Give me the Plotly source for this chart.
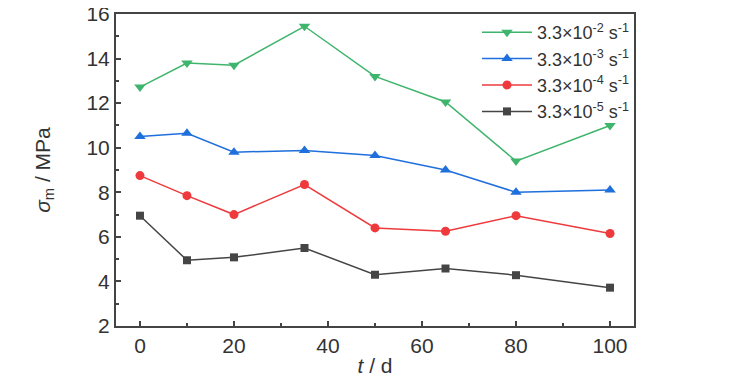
import plotly.graph_objects as go

t_days = [0, 10, 20, 35, 50, 65, 80, 100]
s_e2 = [12.72, 13.8, 13.7, 15.45, 13.2, 12.05, 9.4, 11.0]
s_e3 = [10.5, 10.65, 9.8, 9.88, 9.65, 9.0, 8.0, 8.1]
s_e4 = [8.75, 7.85, 7.0, 8.35, 6.4, 6.25, 6.95, 6.15]
s_e5 = [6.95, 4.95, 5.08, 5.5, 4.3, 4.58, 4.28, 3.72]
names = ["3.3×10<sup>-2</sup> s<sup>-1</sup>", "3.3×10<sup>-3</sup> s<sup>-1</sup>",
         "3.3×10<sup>-4</sup> s<sup>-1</sup>", "3.3×10<sup>-5</sup> s<sup>-1</sup>"]

series = [s_e2, s_e3, s_e4, s_e5]
colors = ["#3fb46c", "#1f6fdc", "#ee3a3c", "#454545"]
symbols = ["triangle-down", "triangle-up", "circle", "square"]
msizes = [10, 10, 9, 8]

FONT = "Liberation Sans, Arial, sans-serif"

fig = go.Figure()
for ys, c, s, n, ms in zip(series, colors, symbols, names, msizes):
    fig.add_trace(go.Scatter(x=t_days, y=ys, mode="lines+markers", name=n,
                             line=dict(color=c, width=1.5),
                             marker=dict(symbol=s, size=ms, color=c)))

axis_common = dict(showline=True, linecolor="#444", linewidth=2, mirror=True,
                   ticks="inside", ticklen=5, tickwidth=1.5, tickcolor="#444",
                   showgrid=False, zeroline=False, automargin=False,
                   ticklabeloverflow="allow",
                   tickfont=dict(family=FONT, size=21, color="#333"))

fig.update_layout(
    width=729, height=390,
    margin=dict(l=108, r=103, t=6, b=72),
    paper_bgcolor="white", plot_bgcolor="white",
    font=dict(family=FONT, color="#333"),
    xaxis=dict(range=[-5.1, 105.1], tickvals=[0, 20, 40, 60, 80, 100],
               minor=dict(tickvals=[10, 30, 50, 70, 90], ticks="inside", ticklen=3, tickcolor="#444"),
               title=dict(text="<i>t</i> / d", font=dict(family=FONT, size=21, color="#333"), standoff=2),
               **axis_common),
    yaxis=dict(range=[2, 16], tickvals=[2, 4, 6, 8, 10, 12, 14, 16],
               minor=dict(tickvals=[3, 5, 7, 9, 11, 13, 15], ticks="inside", ticklen=3, tickcolor="#444"),
               title=dict(text="<i>σ</i><sub>m</sub> / MPa", font=dict(family=FONT, size=21, color="#333"), standoff=30),
               **axis_common),
    legend=dict(x=1.0, y=1.0, xanchor="right", yanchor="top", bgcolor="rgba(255,255,255,0)",
                font=dict(family=FONT, size=18, color="#333"), tracegroupgap=0,
                itemwidth=50, borderwidth=0),
    showlegend=True,
)

fig.write_html("out.html")
